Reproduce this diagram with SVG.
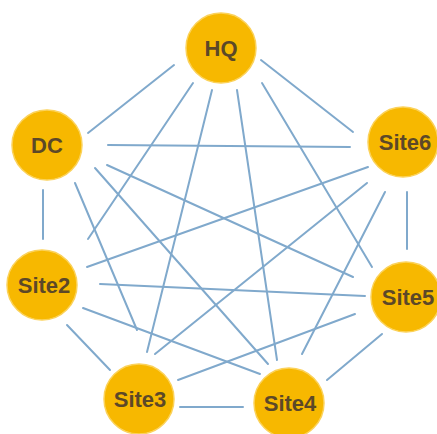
<svg xmlns="http://www.w3.org/2000/svg" width="437" height="434" viewBox="0 0 437 434">
<style>
.edge{stroke:#80a9cc;stroke-width:2;stroke-linecap:round;fill:none}
.node circle{fill:#f7b800;stroke:#fbd25a;stroke-width:1.5}
.node text{font-family:"Liberation Sans",Arial,sans-serif;font-weight:bold;font-size:22px;fill:#5c4828;text-anchor:middle;dominant-baseline:central}
</style>
<rect width="437" height="434" fill="#ffffff"/>
<g id="connectors">
<line class="edge" x1="174" y1="65" x2="88" y2="133"/>
<line class="edge" x1="261" y1="60" x2="353" y2="132"/>
<line class="edge" x1="108" y1="145" x2="350" y2="147"/>
<line class="edge" x1="193" y1="83" x2="88" y2="239"/>
<line class="edge" x1="212" y1="90" x2="147" y2="352"/>
<line class="edge" x1="237" y1="90" x2="277" y2="360"/>
<line class="edge" x1="262" y1="83" x2="372" y2="267"/>
<line class="edge" x1="75" y1="183" x2="137" y2="330"/>
<line class="edge" x1="95" y1="168" x2="268" y2="364"/>
<line class="edge" x1="107" y1="165" x2="353" y2="277"/>
<line class="edge" x1="43" y1="190" x2="43" y2="239"/>
<line class="edge" x1="368" y1="167" x2="87" y2="267"/>
<line class="edge" x1="367" y1="183" x2="155" y2="354"/>
<line class="edge" x1="385" y1="192" x2="302" y2="354"/>
<line class="edge" x1="407" y1="192" x2="407" y2="249"/>
<line class="edge" x1="100" y1="284" x2="365" y2="296"/>
<line class="edge" x1="83" y1="308" x2="260" y2="374"/>
<line class="edge" x1="67" y1="325" x2="110" y2="370"/>
<line class="edge" x1="178" y1="380" x2="355" y2="314"/>
<line class="edge" x1="180" y1="407" x2="243" y2="407"/>
<line class="edge" x1="327" y1="380" x2="382" y2="334"/>
</g>
<g id="HQ" class="node"><circle cx="221" cy="48" r="35"/><text x="221" y="48">HQ</text></g>
<g id="DC" class="node"><circle cx="47" cy="145" r="35"/><text x="47" y="145">DC</text></g>
<g id="Site6" class="node"><circle cx="403" cy="142" r="35"/><text x="405" y="142">Site6</text></g>
<g id="Site2" class="node"><circle cx="42" cy="285" r="35"/><text x="44" y="285">Site2</text></g>
<g id="Site5" class="node"><circle cx="406" cy="297" r="35"/><text x="408" y="297">Site5</text></g>
<g id="Site3" class="node"><circle cx="139" cy="399" r="35"/><text x="140" y="399">Site3</text></g>
<g id="Site4" class="node"><circle cx="289" cy="403" r="35"/><text x="290" y="403">Site4</text></g>
</svg>
